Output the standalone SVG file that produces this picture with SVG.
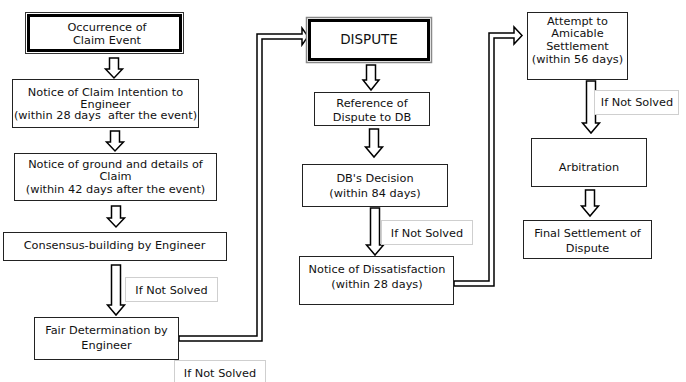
<svg xmlns="http://www.w3.org/2000/svg" width="686" height="382" viewBox="0 0 686 382">
<style>
text{font-family:"DejaVu Sans","Liberation Sans",sans-serif;font-size:11.3px;fill:#111;text-anchor:middle;white-space:pre}
.box{fill:#fff;stroke:#222;stroke-width:1}
.note{fill:#fff;stroke:#cfcfcf;stroke-width:1}
.outer1{fill:#fff;stroke:#333;stroke-width:1}
.outer2{fill:#fff;stroke:#888;stroke-width:1.5}
.inner{fill:none;stroke:#000;stroke-width:3}
.arr{fill:#fff;stroke:#000;stroke-width:1.5;stroke-linejoin:miter}
.big{font-size:13.5px}
</style>
<rect width="686" height="382" fill="#fff"/>
<g id="connectors">
<polygon class="arr" points="109.5,58 118.5,58 118.5,69 122.5,69 114,78 105.5,69 109.5,69"/>
<polygon class="arr" points="110.5,131 119.5,131 119.5,142 123.5,142 115,151 106.5,142 110.5,142"/>
<polygon class="arr" points="111.5,206 120.5,206 120.5,218 124.5,218 116,227 107.5,218 111.5,218"/>
<polygon class="arr" points="111.5,265 120.5,265 120.5,305 124.5,305 116,315 107.5,305 111.5,305"/>
<polygon class="arr" points="366.5,65 375.5,65 375.5,80 379,80 371,90 363,80 366.5,80"/>
<polygon class="arr" points="369.5,129 378.5,129 378.5,147 382.5,147 374,157 365.5,147 369.5,147"/>
<polygon class="arr" points="370.5,208 379.5,208 379.5,245 383.5,245 375,255 366.5,245 370.5,245"/>
<polygon class="arr" points="586.5,81 595.5,81 595.5,123 599.5,123 591,133 582.5,123 586.5,123"/>
<polygon class="arr" points="585.5,190 594.5,190 594.5,206 598.5,206 590,216 581.5,206 585.5,206"/>
<polygon class="arr" points="179,336 257,336 257,34 302,34 302,28 308,36.5 302,45 302,39 262,39 262,341 179,341"/>
<polygon class="arr" points="454,281 489,281 489,33 514,33 514,27 522,35.5 514,44 514,38 494,38 494,286 454,286"/>
</g>
<g id="occurrence">
<rect class="outer1" x="25.5" y="12.5" width="158" height="41"/>
<rect class="inner" x="28.5" y="15.5" width="152" height="35"/>
<text x="107" y="30.5">Occurrence of</text>
<text x="107" y="43.5">Claim Event</text>
</g>
<g id="notice-intention">
<rect class="box" x="12.5" y="79.5" width="186" height="48"/>
<text x="105.5" y="95.5">Notice of Claim Intention to</text>
<text x="105.5" y="107.5">Engineer</text>
<text x="105.5" y="119" xml:space="preserve">(within 28 days  after the event)</text>
</g>
<g id="notice-ground">
<rect class="box" x="14.5" y="153.5" width="202" height="47"/>
<text x="115.5" y="168">Notice of ground and details of</text>
<text x="115.5" y="180">Claim</text>
<text x="115.5" y="192.5">(within 42 days after the event)</text>
</g>
<g id="consensus">
<rect class="box" x="3.5" y="232.5" width="223" height="28"/>
<text x="114.5" y="249">Consensus-building by Engineer</text>
</g>
<g id="ifnot1">
<rect class="note" x="125.5" y="277.5" width="92" height="24"/>
<text x="171.5" y="294">If Not Solved</text>
</g>
<g id="fair">
<rect class="box" x="34.5" y="317.5" width="144" height="42"/>
<text x="106.5" y="334">Fair Determination by</text>
<text x="106.5" y="349">Engineer</text>
</g>
<g id="ifnot2">
<rect class="note" x="174.5" y="360.5" width="91" height="25"/>
<text x="220" y="377">If Not Solved</text>
</g>
<g id="dispute">
<rect class="outer2" x="306.5" y="17.5" width="125" height="45"/>
<rect class="inner" x="309.5" y="20.5" width="119" height="39"/>
<text class="big" x="369" y="44">DISPUTE</text>
</g>
<g id="reference">
<rect class="box" x="314.5" y="92.5" width="115" height="33"/>
<text x="372" y="107.3">Reference of</text>
<text x="372" y="120.7">Dispute to DB</text>
</g>
<g id="db-decision">
<rect class="box" x="302.5" y="164.5" width="145" height="42"/>
<text x="375" y="182.3">DB's Decision</text>
<text x="375" y="196.7">(within 84 days)</text>
</g>
<g id="ifnot3">
<rect class="note" x="381.5" y="220.5" width="91" height="24"/>
<text x="427" y="236.7">If Not Solved</text>
</g>
<g id="dissatisfaction">
<rect class="box" x="299.5" y="256.5" width="154" height="48"/>
<text x="377" y="273">Notice of Dissatisfaction</text>
<text x="377" y="288.3">(within 28 days)</text>
</g>
<g id="amicable">
<rect class="box" x="527.5" y="12.5" width="100" height="67"/>
<text x="577.5" y="24.7">Attempt to</text>
<text x="577.5" y="37.3">Amicable</text>
<text x="577.5" y="50">Settlement</text>
<text x="577.5" y="63.3">(within 56 days)</text>
</g>
<g id="ifnot4">
<rect class="note" x="594.5" y="90.5" width="84" height="24"/>
<text x="637" y="106">If Not Solved</text>
</g>
<g id="arbitration">
<rect class="box" x="531.5" y="138.5" width="115" height="48"/>
<text x="589" y="170.7">Arbitration</text>
</g>
<g id="final">
<rect class="box" x="523.5" y="220.5" width="128" height="38"/>
<text x="587.5" y="237">Final Settlement of</text>
<text x="587.5" y="252">Dispute</text>
</g>
</svg>
